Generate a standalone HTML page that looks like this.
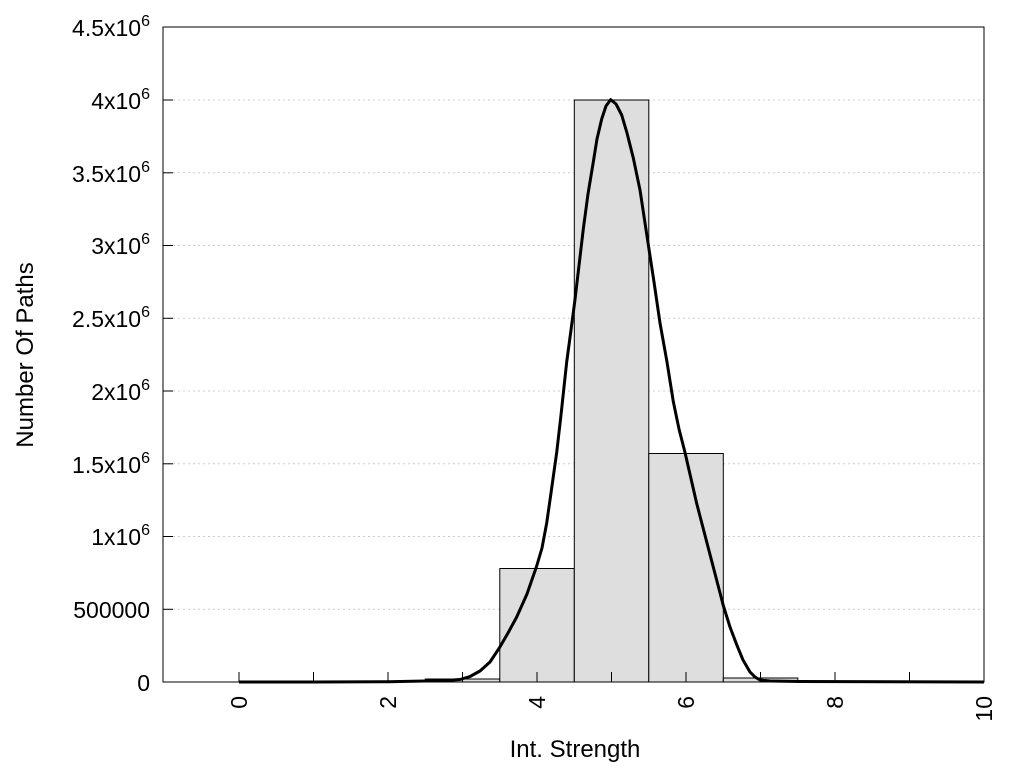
<!DOCTYPE html>
<html><head><meta charset="utf-8"><style>
html,body{margin:0;padding:0;background:#fff;}
svg{display:block;font-family:"Liberation Sans",sans-serif;}
</style></head><body>
<svg width="1024" height="768" viewBox="0 0 1024 768" xmlns="http://www.w3.org/2000/svg">
<rect width="1024" height="768" fill="#fff"/>
<g stroke="#ccc" stroke-dasharray="2,3" stroke-width="1">
<line x1="163" x2="984" y1="609.3" y2="609.3"/><line x1="163" x2="984" y1="536.5" y2="536.5"/>
<line x1="163" x2="984" y1="463.8" y2="463.8"/><line x1="163" x2="984" y1="391" y2="391"/>
<line x1="163" x2="984" y1="318.3" y2="318.3"/><line x1="163" x2="984" y1="245.5" y2="245.5"/>
<line x1="163" x2="984" y1="172.8" y2="172.8"/><line x1="163" x2="984" y1="100" y2="100"/>
</g>
<g fill="#dedede" stroke="#000" stroke-width="1">
<rect x="425.3" y="679" width="74.5" height="3"/>
<rect x="499.8" y="568.5" width="74.5" height="113.5"/>
<rect x="574.3" y="100" width="74.5" height="582"/>
<rect x="648.8" y="453.5" width="74.5" height="228.5"/>
<rect x="723.3" y="678" width="74.5" height="4"/>
</g>
<g stroke="#000" stroke-width="1">
<line x1="239" x2="239" y1="682" y2="672"/><line x1="313.5" x2="313.5" y1="682" y2="672"/>
<line x1="388" x2="388" y1="682" y2="672"/><line x1="462.5" x2="462.5" y1="682" y2="672"/>
<line x1="537" x2="537" y1="682" y2="672"/><line x1="611.5" x2="611.5" y1="682" y2="672"/>
<line x1="686" x2="686" y1="682" y2="672"/><line x1="760.5" x2="760.5" y1="682" y2="672"/>
<line x1="835" x2="835" y1="682" y2="672"/><line x1="909.5" x2="909.5" y1="682" y2="672"/>
<line x1="163" x2="173" y1="609.3" y2="609.3"/><line x1="163" x2="173" y1="536.5" y2="536.5"/>
<line x1="163" x2="173" y1="463.8" y2="463.8"/><line x1="163" x2="173" y1="391" y2="391"/>
<line x1="163" x2="173" y1="318.3" y2="318.3"/><line x1="163" x2="173" y1="245.5" y2="245.5"/>
<line x1="163" x2="173" y1="172.8" y2="172.8"/><line x1="163" x2="173" y1="100" y2="100"/>
</g>
<polyline fill="none" stroke="#000" stroke-width="3" stroke-linejoin="round" points="239,682 313.5,682 388,681.7 425,681 445,680.5 460,679.5 470,676.5 480,671 490,662 499.3,648 508,633 516.7,617 527,594 536.7,566 542,548 546.7,523 551,493 556.7,452.5 561,415 566.7,362 571,330 575,299.6 583.3,229 588,194 593.3,162 597,139 601.7,119 606,106 610.7,99.6 616,104 621.7,115 627,133 633.3,158 640,190 648.3,244.7 654,282 660,323 667,362 673.3,401.6 679,429 685,452.5 696.7,503.5 710,554.5 723.3,605.5 730,627 736.7,644.7 743,660 750,672 755,677 760,680 770,681 800,681.5 984,682"/>
<rect x="163" y="27" width="821" height="655" fill="none" stroke="#000" stroke-width="1"/>
<g font-size="23" text-anchor="end" fill="#000">
<text x="150" y="691">0</text>
<text x="150" y="618">500000</text>
<text x="150" y="545">1x10<tspan dy="-10" font-size="16">6</tspan></text>
<text x="150" y="473">1.5x10<tspan dy="-10" font-size="16">6</tspan></text>
<text x="150" y="400">2x10<tspan dy="-10" font-size="16">6</tspan></text>
<text x="150" y="327">2.5x10<tspan dy="-10" font-size="16">6</tspan></text>
<text x="150" y="254">3x10<tspan dy="-10" font-size="16">6</tspan></text>
<text x="150" y="182">3.5x10<tspan dy="-10" font-size="16">6</tspan></text>
<text x="150" y="109">4x10<tspan dy="-10" font-size="16">6</tspan></text>
<text x="150" y="36">4.5x10<tspan dy="-10" font-size="16">6</tspan></text>
</g>
<g font-size="23" text-anchor="end" fill="#000">
<text transform="translate(247,696) rotate(-90)">0</text>
<text transform="translate(396,696) rotate(-90)">2</text>
<text transform="translate(545,696) rotate(-90)">4</text>
<text transform="translate(694,696) rotate(-90)">6</text>
<text transform="translate(843,696) rotate(-90)">8</text>
<text transform="translate(992,696) rotate(-90)">10</text>
</g>
<text x="575" y="757" font-size="24" text-anchor="middle">Int. Strength</text>
<text transform="translate(33,355) rotate(-90)" font-size="24" text-anchor="middle">Number Of Paths</text>
</svg>
</body></html>
